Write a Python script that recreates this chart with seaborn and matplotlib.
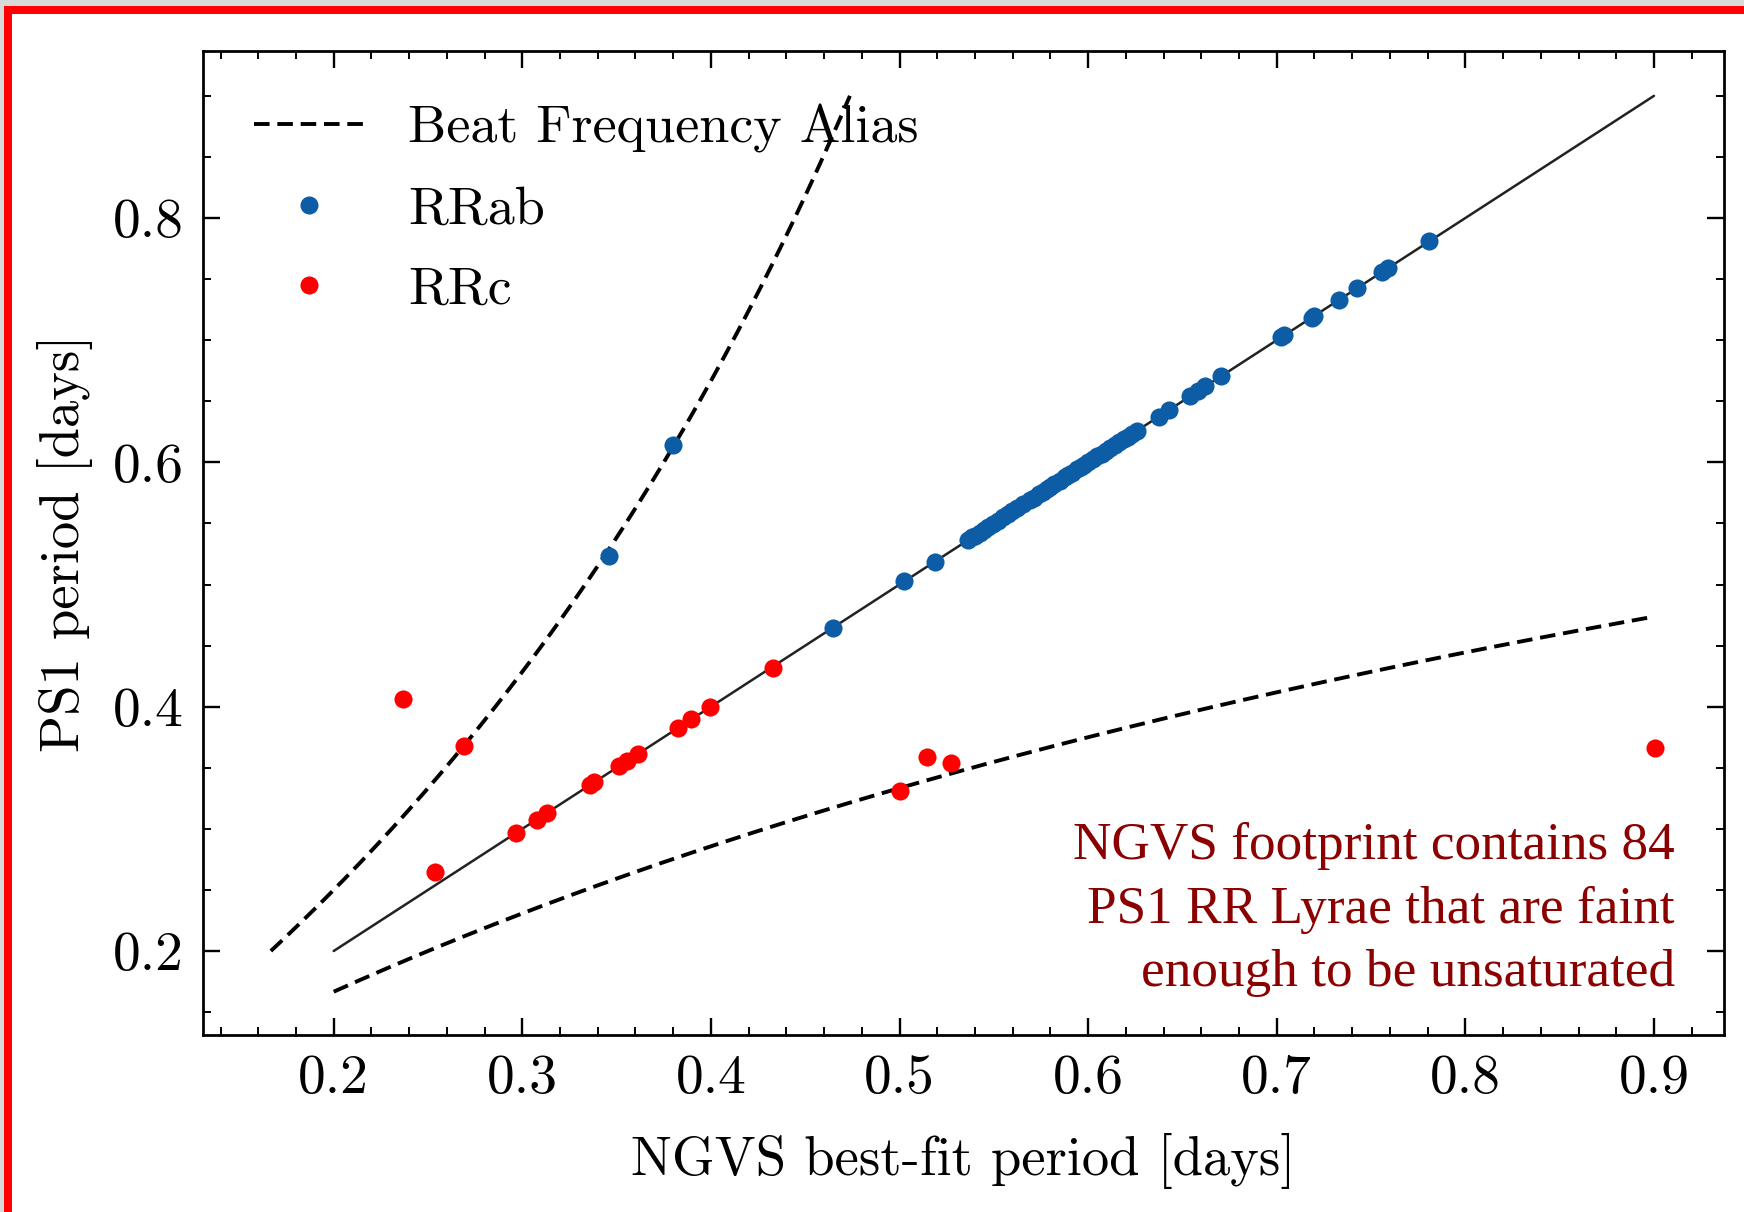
import numpy as np
import pandas as pd
import matplotlib
matplotlib.use("Agg")
import matplotlib.pyplot as plt
import seaborn as sns
from matplotlib.patches import Rectangle
from matplotlib.lines import Line2D

# ---------------- data ----------------
rrab_ngvs = [0.3457, 0.3799,
             0.4646, 0.5025, 0.5190,
             0.5365, 0.5385, 0.5402, 0.5425, 0.5449, 0.5470, 0.5496, 0.5520,
             0.5551, 0.5575, 0.5598, 0.5625, 0.5654, 0.5691, 0.5712, 0.5737,
             0.5760, 0.5784, 0.5800, 0.5821, 0.5850, 0.5877, 0.5895, 0.5914,
             0.5942, 0.5960, 0.5979, 0.6000, 0.6025, 0.6048, 0.6072, 0.6095,
             0.6118, 0.6140, 0.6165, 0.6188, 0.6211, 0.6235, 0.6258,
             0.6375, 0.6431, 0.6542, 0.6583, 0.6621, 0.6704, 0.7025, 0.7040,
             0.7186, 0.7200, 0.7332, 0.7427, 0.7557, 0.7592, 0.7809]
rrab_ps1 = [0.5232, 0.6143,
            0.4640, 0.5030, 0.5185,
            0.5365, 0.5385, 0.5400, 0.5425, 0.5450, 0.5470, 0.5495, 0.5520,
            0.5550, 0.5575, 0.5600, 0.5625, 0.5655, 0.5690, 0.5712, 0.5737,
            0.5760, 0.5785, 0.5800, 0.5820, 0.5850, 0.5877, 0.5895, 0.5915,
            0.5942, 0.5960, 0.5980, 0.6000, 0.6025, 0.6048, 0.6072, 0.6095,
            0.6118, 0.6140, 0.6165, 0.6188, 0.6211, 0.6235, 0.6258,
            0.6375, 0.6431, 0.6542, 0.6583, 0.6621, 0.6704, 0.7025, 0.7040,
            0.7180, 0.7200, 0.7332, 0.7427, 0.7557, 0.7592, 0.7809]
rrc_ngvs = [0.2369, 0.2537, 0.2693, 0.2964, 0.3076, 0.3131, 0.3359, 0.3380,
            0.3511, 0.3553, 0.3611, 0.3827, 0.3897, 0.3994, 0.4328,
            0.5005, 0.5144, 0.5271, 0.9005]
rrc_ps1 = [0.4060, 0.2650, 0.3677, 0.2963, 0.3076, 0.3131, 0.3359, 0.3380,
           0.3511, 0.3553, 0.3611, 0.3827, 0.3897, 0.3994, 0.4320,
           0.3309, 0.3590, 0.3536, 0.3665]
period_range = [0.2, 0.9]          # range of the 1:1 line and the alias curves
legend_labels = ["Beat Frequency Alias", "RRab", "RRc"]
note_text = "NGVS footprint contains 84\nPS1 RR Lyrae that are faint\nenough to be unsaturated"
xticks = [0.2, 0.3, 0.4, 0.5, 0.6, 0.7, 0.8, 0.9]
yticks = [0.2, 0.4, 0.6, 0.8]

BLUE = "#0C5DA5"
RED = "#FF0000"
NOTE = "#8B0000"
DASH = (0, (4.0, 2.0))

# ---------------- style ----------------
sns.set_style("ticks")
plt.rcParams.update({
    "font.family": "serif",
    "font.serif": ["cmr10"],
    "mathtext.fontset": "cm",
    "axes.formatter.use_mathtext": True,
    "font.size": 39,
    "text.color": "black",
    "axes.labelcolor": "black",
    "xtick.direction": "in", "ytick.direction": "in",
    "xtick.top": True, "ytick.right": True,
    "xtick.minor.visible": True, "ytick.minor.visible": True,
    "xtick.major.size": 12, "ytick.major.size": 12,
    "xtick.minor.size": 6, "ytick.minor.size": 6,
    "xtick.major.width": 1.7, "ytick.major.width": 1.7,
    "xtick.minor.width": 1.4, "ytick.minor.width": 1.4,
    "axes.linewidth": 2.0,
    "xtick.color": "black", "ytick.color": "black",
    "xtick.labelcolor": "black", "ytick.labelcolor": "black",
    "axes.edgecolor": "black",
})

fig = plt.figure(figsize=(17.44, 12.12), dpi=100)
ax = fig.add_axes([0.1164, 0.1460, 0.8721, 0.8119])

# 1:1 line
id_df = pd.DataFrame({"x": period_range, "y": period_range})
sns.lineplot(data=id_df, x="x", y="y", color="#222222", linewidth=1.8,
             ax=ax, legend=False, estimator=None, sort=False, zorder=2)

# beat frequency alias curves: 1/P_ps1 = 1/P_ngvs +/- 1 day^-1
grid = np.linspace(period_range[0], period_range[1], 300)
lower = pd.DataFrame({"x": grid, "y": 1.0 / (1.0 / grid + 1.0)})
upper = pd.DataFrame({"x": 1.0 / (1.0 / grid + 1.0), "y": grid})
for d in (upper, lower):
    sns.lineplot(data=d, x="x", y="y", color="black", linewidth=2.8,
                 linestyle=DASH, ax=ax, legend=False,
                 estimator=None, sort=False, zorder=2)

# points
sns.scatterplot(x=rrab_ngvs, y=rrab_ps1, color=BLUE, s=170, linewidth=0,
                ax=ax, legend=False, zorder=3)
sns.scatterplot(x=rrc_ngvs, y=rrc_ps1, color=RED, s=170, linewidth=0,
                ax=ax, legend=False, zorder=3)

ax.set_xlim(0.1307, 0.9371)
ax.set_ylim(0.1312, 0.9367)
ax.set_xticks(xticks)
ax.set_yticks(yticks)
ax.xaxis.set_minor_locator(matplotlib.ticker.MultipleLocator(0.02))
ax.yaxis.set_minor_locator(matplotlib.ticker.MultipleLocator(0.05))
ax.xaxis.set_major_formatter(matplotlib.ticker.FormatStrFormatter("%.1f"))
ax.yaxis.set_major_formatter(matplotlib.ticker.FormatStrFormatter("%.1f"))
ax.tick_params(axis="x", which="both", pad=14, labelsize=40)
ax.tick_params(axis="y", which="both", pad=14, labelsize=40)

ax.set_xlabel("NGVS best-fit period [days]", fontsize=39.3, labelpad=21)
ax.set_ylabel("PS1 period [days]", fontsize=39.3, labelpad=14)

handles = [Line2D([], [], color="black", lw=2.8, linestyle=DASH),
           Line2D([], [], marker="o", ls="", color=BLUE, markersize=13, markeredgewidth=0),
           Line2D([], [], marker="o", ls="", color=RED, markersize=13, markeredgewidth=0)]
ax.legend(handles, legend_labels, loc="upper left", frameon=False, fontsize=39,
          handlelength=2.05, handletextpad=0.8, labelspacing=0.6,
          borderaxespad=0, borderpad=0, bbox_to_anchor=(0.0335, 0.946))

ax.text(0.9678, 0.039, note_text, transform=ax.transAxes, ha="right", va="bottom",
        multialignment="right", color=NOTE, fontsize=38.3,
        family=["Liberation Serif", "DejaVu Serif"], linespacing=1.41)

# screenshot frame: thin grey strip + red border on top and left
W, H = 1744.0, 1212.0
fig.patches.append(Rectangle((0, 1 - 6 / H), 1, 6 / H, transform=fig.transFigure,
                             facecolor="#d9d9d9", edgecolor="none", zorder=10))
fig.patches.append(Rectangle((0, 0), 4 / W, 1, transform=fig.transFigure,
                             facecolor="#d9d9d9", edgecolor="none", zorder=10))
fig.patches.append(Rectangle((4 / W, 1 - 14 / H), 1 - 4 / W, 8 / H, transform=fig.transFigure,
                             facecolor="#ff0000", edgecolor="none", zorder=11))
fig.patches.append(Rectangle((4 / W, 0), 8 / W, 1 - 6 / H, transform=fig.transFigure,
                             facecolor="#ff0000", edgecolor="none", zorder=11))

fig.savefig("out.png", dpi=100, facecolor="white")
